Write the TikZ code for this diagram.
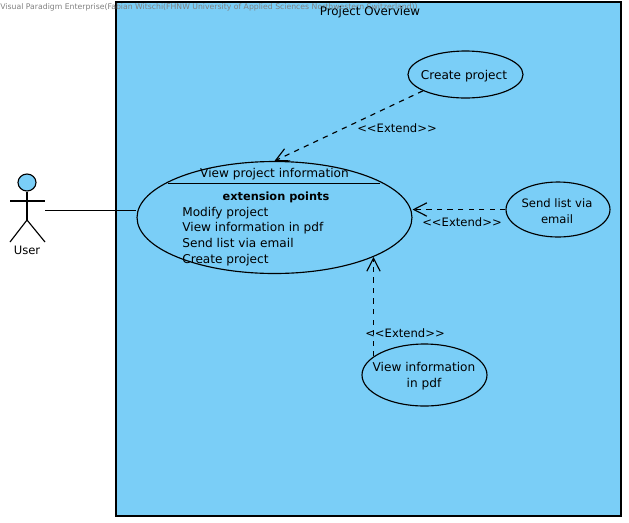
\documentclass[tikz,border=0pt]{standalone}
\usepackage{fontspec}
\setmainfont{DejaVu Sans}
\usetikzlibrary{shapes.geometric,arrows.meta}
\definecolor{fondo}{RGB}{122,206,247}

\begin{document}
\begin{tikzpicture}[
    x=0.02cm, y=-0.02cm,
    every node/.style={font=\fontsize{6.9}{8}\selectfont, inner sep=0pt},
    casoUso/.style={draw, ellipse},
    texto/.style={anchor=base},
    puntoExt/.style={anchor=base west},
    etiqueta/.style={texto, font=\fontsize{6.6}{8}\selectfont},
    extiende/.style={dash pattern=on 3pt off 3pt, -{Straight Barb[length=7.4pt,width=7.6pt]}},
    linea/.style={line width=0.65pt}
]
\useasboundingbox (0,0) rectangle (629,522);
% Sistema
\node[draw, fill=fondo, linea, minimum width=10.1cm, minimum height=10.28cm] (sistema) at (368.5,259) {};
\node[font=\fontsize{4.4}{5}\selectfont, text=gray, anchor=west] (marca) at (0,7) {Visual Paradigm Enterprise(Fabian Witschi(FHNW University of Applied Sciences Northwestern Switzerland))};
\node[texto, font=\fontsize{6.75}{8}\selectfont] (tituloSistema) at (370,15) {Project Overview};
% Actor
\node[draw, fill=fondo, ellipse, linea, minimum width=0.36cm, minimum height=0.34cm] (cabeza) at (27,182.5) {};
\coordinate (cadera) at (27,220);
\coordinate (manoIzq) at (10,201);
\coordinate (manoDer) at (45,201);
\coordinate (pieIzq) at (10,242);
\coordinate (pieDer) at (45,242);
\coordinate (salidaUser) at (45,210.5);
\draw[linea] (cabeza.south) -- (cadera);
\draw[linea] (manoIzq) -- (manoDer);
\draw[linea] (pieIzq) -- (cadera) -- (pieDer);
\node[etiqueta] (user) at (27,254) {User};
% Casos de uso
\node[casoUso, linea, minimum width=5.5cm, minimum height=2.24cm] (verProyecto) at (274.5,217.5) {};
\node[casoUso, linea, minimum width=2.3cm, minimum height=0.94cm] (crearProyecto) at (465.5,74.5) {};
\node[casoUso, linea, minimum width=2.08cm, minimum height=1.1cm] (enviarLista) at (558,209.5) {};
\node[casoUso, linea, minimum width=2.5cm, minimum height=1.24cm] (verPdf) at (424.5,375) {};
% Textos de los casos
\node[texto] (textoCrear) at (464,79) {Create project};
\node[font=\fontsize{6.6}{8}\selectfont, align=center] (textoEnviar) at (557,211) {Send list via\\[1pt]email};
\node[align=center] (textoPdf) at (424,376) {View information\\[1pt]in pdf};
% Compartimentos
\node[texto] (tituloCaso) at (274.5,177) {View project information};
\coordinate (sepIzq) at (168,183.5);
\coordinate (sepDer) at (380,183.5);
\draw[linea] (sepIzq) -- (sepDer);
\node[texto, font=\fontsize{6.45}{8}\selectfont\bfseries] (puntos) at (276,200) {extension points};
\node[puntoExt] (punto1) at (182,216) {Modify project};
\node[puntoExt] (punto2) at (182,231.5) {View information in pdf};
\node[puntoExt] (punto3) at (182,247) {Send list via email};
\node[puntoExt] (punto4) at (182,263) {Create project};
% Aristas
\draw[linea] (salidaUser) -- (verProyecto.west |- salidaUser);
\draw[linea, extiende] (crearProyecto.201) -- (verProyecto.north);
\draw[linea, extiende] (enviarLista.west) -- (verProyecto.east |- enviarLista.west);
\draw[linea, extiende] (verPdf.160) -- (verPdf.160 |- 0,257);
% Etiquetas
\node[etiqueta] (ext1) at (397,132) {<{}<Extend>{}>};
\node[etiqueta] (ext2) at (462,226.5) {<{}<Extend>{}>};
\node[etiqueta] (ext3) at (405,337) {<{}<Extend>{}>};
\end{tikzpicture}
\end{document}
